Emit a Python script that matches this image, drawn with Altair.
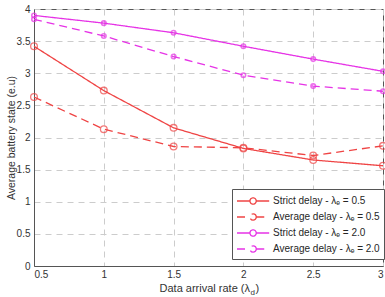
import altair as alt
import pandas as pd

# Data arrival rate (x) and average battery state for each scheme
rates = [0.5, 1.0, 1.5, 2.0, 2.5, 3.0]
strict_05 = [3.42, 2.73, 2.15, 1.83, 1.65, 1.56]
average_05 = [2.63, 2.13, 1.86, 1.84, 1.72, 1.87]
strict_20 = [3.90, 3.78, 3.63, 3.42, 3.22, 3.03]
average_20 = [3.84, 3.58, 3.26, 2.97, 2.80, 2.72]

series_names = [
    "Strict delay - λₑ = 0.5",
    "Average delay - λₑ = 0.5",
    "Strict delay - λₑ = 2.0",
    "Average delay - λₑ = 2.0",
]
series_values = [strict_05, average_05, strict_20, average_20]
energy_rates = [0.5, 0.5, 2.0, 2.0]
colors = ["#ef4444", "#ef4444", "#e633e6", "#e633e6"]
dashes = [[1, 0], [8, 5], [1, 0], [8, 5]]

rows = []
for name, vals, e in zip(series_names, series_values, energy_rates):
    for r, v in zip(rates, vals):
        rows.append({"rate": r, "battery": v, "series": name, "energy": e})
df = pd.DataFrame(rows)

x_enc = alt.X(
    "rate:Q",
    scale=alt.Scale(domain=[0.5, 3], nice=False, zero=False),
    axis=alt.Axis(values=rates, title=None, format="~g"),
)
y_enc = alt.Y(
    "battery:Q",
    scale=alt.Scale(domain=[0, 4], nice=False),
    axis=alt.Axis(values=[0, 0.5, 1, 1.5, 2, 2.5, 3, 3.5, 4],
                  title="Average battery state (e.u)", format="~g",
                  titleX=-23, titleY=128.5, titleAlign="center",
                  titleBaseline="middle", titleAngle=270),
)
color_scale = alt.Scale(domain=series_names, range=colors)
dash_scale = alt.Scale(domain=series_names, range=dashes)

# legend glyph: a line with a small marker circle in its middle
glyph = ("M -1 0 L 0.85 0 M 1.75 0 L 3.6 0 "
         "M 1.75 0 A 0.45 0.45 0 1 1 0.85 0 A 0.45 0.45 0 1 1 1.75 0")

legend = alt.Legend(
    title=None,
    orient="none",
    legendX=198,
    legendY=180,
    symbolType=glyph,
    symbolSize=196,
    symbolStrokeWidth=1.3,
    symbolFillColor="transparent",
    labelFontSize=10,
    labelColor="#262626",
    labelFont="Liberation Sans",
    fillColor="white",
    strokeColor="#555555",
    padding=4,
    rowPadding=2,
    labelOffset=21,
)

lines = alt.Chart(df).mark_line(strokeWidth=1.3).encode(
    x=x_enc,
    y=y_enc,
    color=alt.Color("series:N", scale=color_scale, legend=legend, sort=series_names),
    strokeDash=alt.StrokeDash("series:N", scale=dash_scale, legend=legend, sort=series_names),
)

# open circles for the lambda_e = 0.5 runs, smaller dots for lambda_e = 2.0
points_low = alt.Chart(df).transform_filter(alt.datum.energy == 0.5).mark_point(
    shape="circle", filled=False, strokeWidth=1.3, size=45
).encode(
    x=x_enc,
    y=y_enc,
    color=alt.Color("series:N", scale=color_scale, legend=None),
)
points_high = alt.Chart(df).transform_filter(alt.datum.energy == 2.0).mark_point(
    shape="circle", filled=False, strokeWidth=1.6, size=20
).encode(
    x=x_enc,
    y=y_enc,
    color=alt.Color("series:N", scale=color_scale, legend=None),
)

# x-axis title with a subscripted lambda
title_main = alt.Chart().mark_text(
    align="right", baseline="alphabetic", fontSize=11, font="Liberation Sans", color="#333333"
).encode(x=alt.value(216), y=alt.value(283), text=alt.value("Data arrival rate (λ"))
title_sub = alt.Chart().mark_text(
    align="left", baseline="alphabetic", fontSize=8, font="Liberation Sans", color="#333333"
).encode(x=alt.value(216.5), y=alt.value(286), text=alt.value("d"))
title_close = alt.Chart().mark_text(
    align="left", baseline="alphabetic", fontSize=11, font="Liberation Sans", color="#333333"
).encode(x=alt.value(221.5), y=alt.value(283), text=alt.value(")"))

chart = (
    alt.layer(lines, points_low, points_high, title_main, title_sub, title_close)
    .properties(
        width=349,
        height=257,
        autosize=alt.AutoSizeParams(type="none"),
        padding={"left": 34, "top": 9, "right": 2, "bottom": 31},
    )
    .configure_view(stroke="#555555", strokeWidth=1)
    .configure_axis(
        grid=True,
        gridColor="#cccccc",
        gridDash=[6, 5],
        gridWidth=1,
        domainColor="#555555",
        ticks=False,
        labelFont="Liberation Sans",
        labelFontSize=10,
        labelColor="#333333",
        titleFont="Liberation Sans",
        titleFontSize=10.5,
        titleFontWeight="normal",
        titleColor="#333333",
    )
    .configure_axisX(labelPadding=3)
    .configure_axisY(labelPadding=4)
)

chart.save("out.html", embed_options={"renderer": "svg", "actions": False})
